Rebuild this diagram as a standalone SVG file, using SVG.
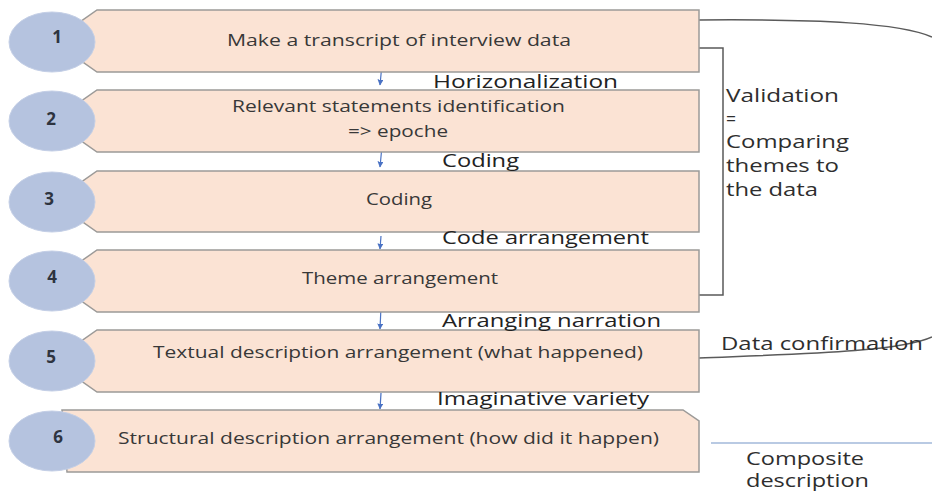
<svg xmlns="http://www.w3.org/2000/svg" width="932" height="492" viewBox="0 0 932 492">
<defs>
<style>
.box{fill:#fbe3d4;stroke:#9c9a98;stroke-width:1.5}
.num{fill:#b5c3df;stroke:#c4cfe6;stroke-width:1}
.nt{font-family:"Open Sans","Liberation Sans",sans-serif;font-size:17px;font-weight:bold;fill:#2e3440;text-anchor:middle}
.bt{font-family:"Open Sans","Liberation Sans",sans-serif;font-size:16px;fill:#383838}
.lt{font-family:"Open Sans","Liberation Sans",sans-serif;font-size:18px;font-weight:500;fill:#222}
.rt{font-family:"Open Sans","Liberation Sans",sans-serif;font-size:17.5px;fill:#2e2e2e}
.ar{stroke:#4a72c4;stroke-width:1.2;fill:none;marker-end:url(#ah)}
.ln{stroke:#5a5a5a;stroke-width:1.5;fill:none}
</style>
<marker id="ah" viewBox="0 0 10 10" refX="9" refY="5" markerWidth="5" markerHeight="5" orient="auto">
<path d="M0,0 L10,5 L0,10 Z" fill="#4a72c4"/>
</marker>
</defs>
<rect width="932" height="492" fill="#ffffff"/>

<g id="connectors">
<path class="ar" d="M382,64 L380,85"/>
<path class="ar" d="M382,146 L380,167"/>
<path class="ar" d="M381,236 L380,249"/>
<path class="ar" d="M381,307 L380,329"/>
<path class="ar" d="M381,393 L380,409"/>
<path class="ln" d="M699,48 H723 V295 H699"/>
<path class="ln" d="M699,20 C820,19 900,23 932,37"/>
<path class="ln" d="M699,358 C800,354 900,352 932,337"/>
<path d="M711,443 H932" stroke="#a2b8da" stroke-width="1.5" fill="none"/>
</g>

<g id="step1">
<path class="box" d="M97,10 H699 V72 H97 L80,60 V22 Z"/>
<ellipse class="num" cx="52" cy="42" rx="43" ry="30"/>
<text class="nt" x="57" y="43">1</text>
<text class="bt" x="227" y="46" textLength="344" lengthAdjust="spacingAndGlyphs">Make a transcript of interview data</text>
</g>
<g id="step2">
<path class="box" d="M97,90 H699 V152 H97 L80,140 V102 Z"/>
<ellipse class="num" cx="52" cy="121" rx="43" ry="30"/>
<text class="nt" x="51" y="125">2</text>
<text class="bt" x="232" y="112" textLength="333" lengthAdjust="spacingAndGlyphs">Relevant statements identification</text>
<text class="bt" x="348" y="137" textLength="100" lengthAdjust="spacingAndGlyphs">=&gt; epoche</text>
</g>
<g id="step3">
<path class="box" d="M97,171 H699 V232 H97 L80,220 V183 Z"/>
<ellipse class="num" cx="52" cy="202" rx="43" ry="30"/>
<text class="nt" x="49" y="205">3</text>
<text class="bt" x="366" y="205" textLength="66" lengthAdjust="spacingAndGlyphs">Coding</text>
</g>
<g id="step4">
<path class="box" d="M97,250 H699 V312 H97 L80,300 V262 Z"/>
<ellipse class="num" cx="52" cy="281" rx="43" ry="30"/>
<text class="nt" x="52" y="283">4</text>
<text class="bt" x="302" y="284" textLength="196" lengthAdjust="spacingAndGlyphs">Theme arrangement</text>
</g>
<g id="step5">
<path class="box" d="M97,330 H699 V392 H97 L80,380 V342 Z"/>
<ellipse class="num" cx="52" cy="361" rx="43" ry="30"/>
<text class="nt" x="51" y="363">5</text>
<text class="bt" x="153" y="358" textLength="490" lengthAdjust="spacingAndGlyphs">Textual description arrangement  (what happened)</text>
</g>
<g id="step6">
<path class="box" d="M62,410 H683 L699,421 V472 H67 Z"/>
<ellipse class="num" cx="52" cy="441" rx="43" ry="30"/>
<text class="nt" x="58" y="443">6</text>
<text class="bt" x="118" y="444" textLength="541" lengthAdjust="spacingAndGlyphs">Structural description arrangement  (how did it happen)</text>
</g>

<g id="labels">
<text class="lt" x="433" y="88" textLength="185" lengthAdjust="spacingAndGlyphs">Horizonalization</text>
<text class="lt" x="442" y="167" textLength="77" lengthAdjust="spacingAndGlyphs">Coding</text>
<text class="lt" x="442" y="244" textLength="207" lengthAdjust="spacingAndGlyphs">Code arrangement</text>
<text class="lt" x="442" y="327" textLength="219" lengthAdjust="spacingAndGlyphs">Arranging narration</text>
<text class="lt" x="437" y="405" textLength="212" lengthAdjust="spacingAndGlyphs">Imaginative variety</text>
</g>

<g id="validation">
<text class="rt" x="726" y="102" textLength="113" lengthAdjust="spacingAndGlyphs">Validation</text>
<text class="rt" x="726" y="125">=</text>
<text class="rt" x="726" y="148" textLength="123" lengthAdjust="spacingAndGlyphs">Comparing</text>
<text class="rt" x="726" y="172" textLength="113" lengthAdjust="spacingAndGlyphs">themes to</text>
<text class="rt" x="726" y="196" textLength="92" lengthAdjust="spacingAndGlyphs">the data</text>
</g>
<g id="data-confirmation">
<text class="rt" x="721" y="350" textLength="202" lengthAdjust="spacingAndGlyphs">Data confirmation</text>
</g>
<g id="composite">
<text class="rt" x="746" y="465" textLength="118" lengthAdjust="spacingAndGlyphs">Composite</text>
<text class="rt" x="746" y="487" textLength="123" lengthAdjust="spacingAndGlyphs">description</text>
</g>
</svg>
